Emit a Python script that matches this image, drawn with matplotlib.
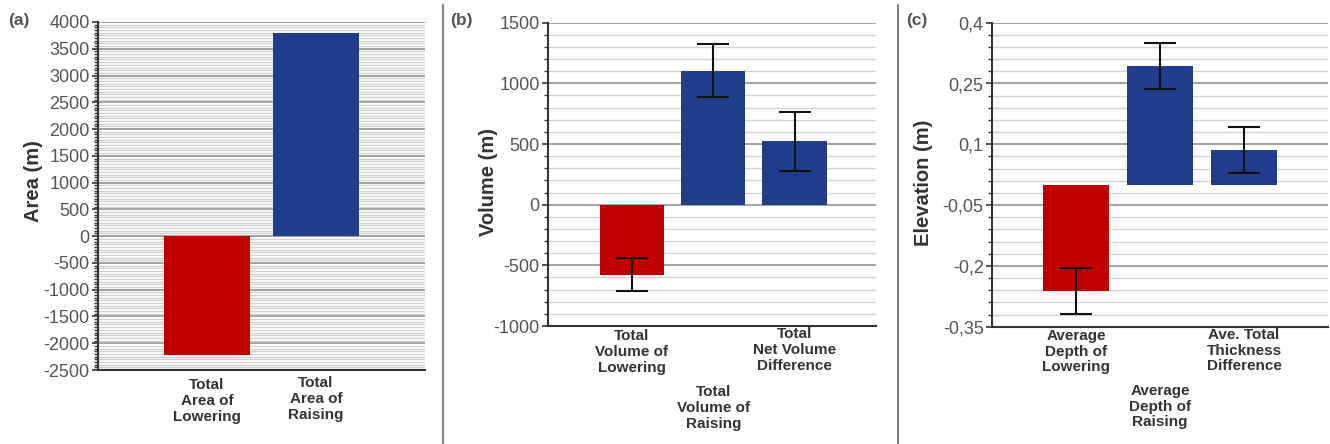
import matplotlib
matplotlib.use("Agg")
from matplotlib import pyplot as plt
from matplotlib.ticker import MultipleLocator, FuncFormatter

plt.rcParams['font.family'] = ['Liberation Sans', 'DejaVu Sans']
plt.rcParams['axes.unicode_minus'] = False

RED = '#c00000'
BLUE = '#1f3d8a'

# (a) area
area_labels = ["Total\nArea of\nLowering", "Total\nArea of\nRaising"]
area_values = [-2220, 3800]

# (b) volume
vol_labels = ["Total\nVolume of\nLowering", "Total\nVolume of\nRaising", "Total\nNet Volume\nDifference"]
vol_values = [-577, 1106, 521]
vol_err = [135, 215, 245]

# (c) elevation
elev_labels = ["Average\nDepth of\nLowering", "Average\nDepth of\nRaising", "Ave. Total\nThickness\nDifference"]
elev_values = [-0.261, 0.294, 0.086]
elev_err = [0.057, 0.057, 0.056]

W, H = 1330, 444
fig = plt.figure(figsize=(W / 100, H / 100), dpi=100)

def box(l, r, t, b):
  return [l / W, (H - b) / H, (r - l) / W, (b - t) / H]

def style(ax, ylim, major, minor, offset=0.0, fmt=None):
  ax.set_ylim(*ylim)
  ax.yaxis.set_major_locator(MultipleLocator(major, offset=offset))
  ax.yaxis.set_minor_locator(MultipleLocator(minor, offset=offset % minor))
  if fmt is not None:
    ax.yaxis.set_major_formatter(FuncFormatter(fmt))
  ax.set_axisbelow(True)
  ax.grid(axis='y', which='major', color='#9a9a9a', lw=1.3)
  ax.grid(axis='y', which='minor', color='#d2d2d2', lw=1.0)
  for s in ['top', 'right']:
    ax.spines[s].set_visible(False)
  for s in ['left', 'bottom']:
    ax.spines[s].set_color('#333333')
    ax.spines[s].set_linewidth(1.5)
  ax.tick_params(axis='y', which='major', length=4, width=1.2, pad=2,
                 labelsize=13, labelcolor='#555555', color='#333333')
  ax.tick_params(axis='y', which='minor', length=3, width=1.0, color='#333333')
  ax.tick_params(axis='x', length=0, labelbottom=False)

def cat_labels(ax, labels, offsets):
  for i, (lab, off) in enumerate(zip(labels, offsets)):
    ax.annotate(lab, xy=(i, 0), xycoords=('data', 'axes fraction'),
                xytext=(0, -off), textcoords='offset pixels',
                ha='center', va='top', fontsize=11, fontweight='bold',
                color='#333333', linespacing=1.17, annotation_clip=False)

# panel a
ax1 = fig.add_axes(box(98, 425, 22, 370))
ax1.bar(range(len(area_values)), area_values, width=0.79,
        color=[RED, BLUE])
ax1.set_xlim(-1, 2)
style(ax1, (-2500, 4000), 500, 50)
ax1.set_ylabel("Area (m)", fontsize=14.5, fontweight='bold', color='#333333')
ax1.yaxis.set_label_coords(-0.168, 0.543)
cat_labels(ax1, area_labels, [8, 6])

# panel b
ax2 = fig.add_axes(box(548, 876, 22.7, 326))
ax2.bar(range(len(vol_values)), vol_values, width=0.79,
        color=[RED, BLUE, BLUE])
ax2.errorbar(range(len(vol_values)), vol_values, yerr=vol_err, fmt='none',
             ecolor='#111111', elinewidth=1.5, capsize=11.5, capthick=1.5)
ax2.set_xlim(-1.03, 3)
style(ax2, (-1000, 1500), 500, 100)
ax2.set_ylabel("Volume (m)", fontsize=14.5, fontweight='bold', color='#333333')
ax2.yaxis.set_label_coords(-0.152, 0.475)
cat_labels(ax2, vol_labels, [3, 59, 1])

# panel c
ax3 = fig.add_axes(box(992, 1328, 22.7, 326.7))
ax3.bar(range(len(elev_values)), elev_values, width=0.79,
        color=[RED, BLUE, BLUE])
ax3.errorbar(range(len(elev_values)), elev_values, yerr=elev_err, fmt='none',
             ecolor='#111111', elinewidth=1.5, capsize=11.5, capthick=1.5)
ax3.set_xlim(-1, 3)
style(ax3, (-0.35, 0.4), 0.15, 0.03, offset=0.1,
      fmt=lambda v, p: ("%g" % round(v, 2)).replace('.', ','))
ax3.set_ylabel("Elevation (m)", fontsize=14.5, fontweight='bold', color='#333333')
ax3.yaxis.set_label_coords(-0.176, 0.473)
cat_labels(ax3, elev_labels, [2, 57, 1])

# panel letters
for x, t in [(19, "(a)"), (461, "(b)"), (917, "(c)")]:
  fig.text(x / W, 1 - 21 / H, t, ha='center', va='center', fontsize=12.5,
           fontweight='bold', color='#555555')

# separators
fig.add_artist(plt.Line2D([443 / W, 443 / W], [0, 1 - 5 / H], color='#888888', lw=1.6))
fig.add_artist(plt.Line2D([898 / W, 898 / W], [0, 1 - 5 / H], color='#666666', lw=1.2))

plt.savefig("out.png", dpi=100)
plt.close()
